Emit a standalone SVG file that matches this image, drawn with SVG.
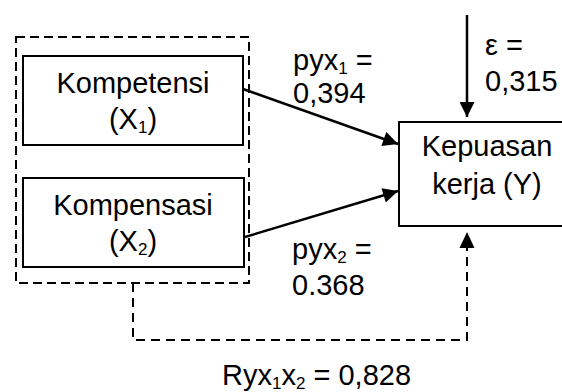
<svg xmlns="http://www.w3.org/2000/svg" width="562" height="392" viewBox="0 0 562 392">
  <style>
    .box { fill: #fff; stroke: #000; stroke-width: 2; }
    .group { fill: none; stroke: #000; stroke-width: 2; stroke-dasharray: 9 5; }
    .line { fill: none; stroke: #000; stroke-width: 2.5; }
    .dash { fill: none; stroke: #000; stroke-width: 2; stroke-dasharray: 9 6; }
    text { font-family: "Liberation Sans", Arial, sans-serif; font-size: 29px; fill: #000; }
    .mid { text-anchor: middle; }
    .sub { font-size: 17px; }
  </style>
  <defs>
    <marker id="head" viewBox="0 0 10 10" refX="10" refY="5" markerWidth="6.4" markerHeight="6" markerUnits="strokeWidth" orient="auto">
      <path d="M0,0 L10,5 L0,10 Z" fill="#000"/>
    </marker>
  </defs>

  <!-- dashed grouping of the two independent variables -->
  <rect class="group" x="16" y="37" width="233" height="246"/>

  <g id="x1">
    <rect class="box" x="23" y="56" width="220" height="89"/>
    <text class="mid" x="133" y="93">Kompetensi</text>
    <text class="mid" x="133" y="129">(X<tspan class="sub" dy="4">1</tspan><tspan dy="-4">)</tspan></text>
  </g>

  <g id="x2">
    <rect class="box" x="23" y="178" width="221" height="89"/>
    <text class="mid" x="133" y="215">Kompensasi</text>
    <text class="mid" x="133" y="251">(X<tspan class="sub" dy="4">2</tspan><tspan dy="-4">)</tspan></text>
  </g>

  <g id="y">
    <rect class="box" x="399" y="122" width="176" height="104"/>
    <text class="mid" x="487" y="156">Kepuasan</text>
    <text class="mid" x="487" y="194">kerja (Y)</text>
  </g>

  <g id="connectors">
    <line class="line" x1="243" y1="89" x2="398" y2="144" marker-end="url(#head)"/>
    <line class="line" x1="245" y1="237" x2="398" y2="191" marker-end="url(#head)"/>
    <line class="line" x1="467" y1="15" x2="467" y2="117" marker-end="url(#head)"/>
    <path class="dash" d="M133,283 V340 H467 V247"/>
    <path d="M467,232 L459.5,248 L474.5,248 Z" fill="#000"/>
  </g>

  <g id="labels">
    <text x="293" y="70">pyx<tspan class="sub" dy="4">1</tspan><tspan dy="-4"> =</tspan></text>
    <text x="293" y="103">0,394</text>
    <text x="485" y="55">ε =</text>
    <text x="485" y="91">0,315</text>
    <text x="292" y="259">pyx<tspan class="sub" dy="4">2</tspan><tspan dy="-4"> =</tspan></text>
    <text x="292" y="295">0.368</text>
    <text x="222" y="385">Ryx<tspan class="sub" dy="4">1</tspan><tspan dy="-4">x</tspan><tspan class="sub" dy="4">2</tspan><tspan dy="-4"> = 0,828</tspan></text>
  </g>
</svg>
